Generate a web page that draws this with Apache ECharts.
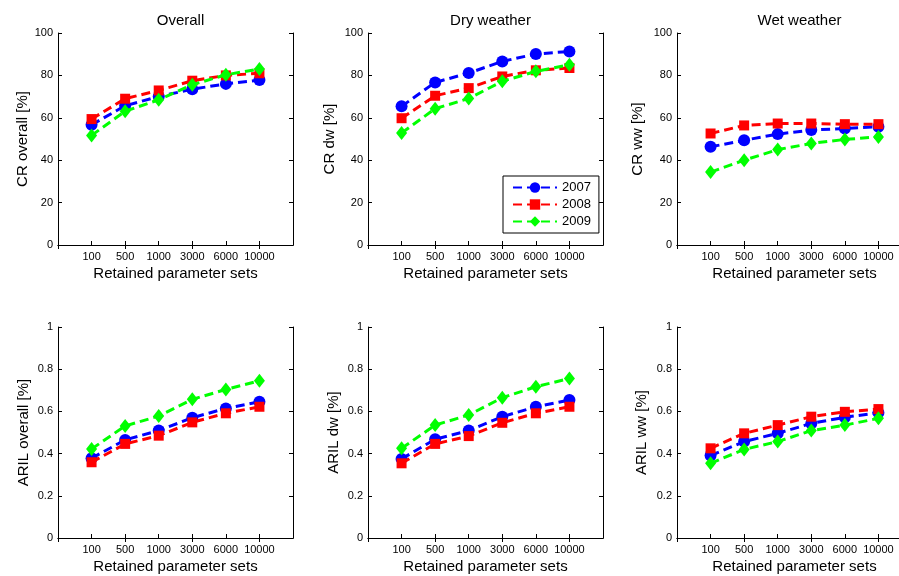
<!DOCTYPE html>
<html>
<head>
<meta charset="utf-8">
<style>
  html, body { margin: 0; padding: 0; background: #fff; }
  #chart { width: 899px; height: 576px; }
</style>
<script src="https://cdn.jsdelivr.net/npm/echarts@6/dist/echarts.min.js"></script>
</head>
<body>
<div id="chart"></div>
<script>
// Retained parameter sets (x categories) and the three calibration years
const categories = ['100', '500', '1000', '3000', '6000', '10000'];
const years = ['2007', '2008', '2009'];

// Containment ratio, overall [%]
const crOverall2007 = [56.7, 65.7, 70.0, 73.5, 76.0, 77.8];
const crOverall2008 = [59.4, 69.0, 72.9, 77.5, 80.0, 81.0];
const crOverall2009 = [51.7, 63.1, 68.5, 75.6, 80.3, 83.0];

// Containment ratio, dry weather [%]
const crDry2007 = [65.4, 76.7, 81.1, 86.6, 90.1, 91.3];
const crDry2008 = [59.8, 70.4, 74.0, 79.5, 82.4, 83.5];
const crDry2009 = [52.8, 64.3, 69.1, 77.2, 81.9, 85.0];

// Containment ratio, wet weather [%]
const crWet2007 = [46.3, 49.4, 52.3, 54.2, 55.0, 55.8];
const crWet2008 = [52.6, 56.4, 57.3, 57.3, 57.0, 57.0];
const crWet2009 = [34.4, 40.0, 45.0, 47.9, 49.8, 51.0];

// Average relative interval length, overall
const arilOverall2007 = [0.378, 0.465, 0.509, 0.570, 0.614, 0.646];
const arilOverall2008 = [0.359, 0.446, 0.485, 0.548, 0.591, 0.622];
const arilOverall2009 = [0.422, 0.531, 0.578, 0.657, 0.704, 0.745];

// Average relative interval length, dry weather
const arilDry2007 = [0.375, 0.468, 0.509, 0.575, 0.622, 0.654];
const arilDry2008 = [0.354, 0.446, 0.483, 0.546, 0.591, 0.622];
const arilDry2009 = [0.425, 0.535, 0.583, 0.665, 0.717, 0.756];

// Average relative interval length, wet weather
const arilWet2007 = [0.391, 0.457, 0.496, 0.543, 0.572, 0.594];
const arilWet2008 = [0.425, 0.496, 0.535, 0.575, 0.598, 0.611];
const arilWet2009 = [0.354, 0.420, 0.457, 0.509, 0.535, 0.567];

const FONT = "'Liberation Sans', Arial, Helvetica, sans-serif";
const colors = ['#0000ff', '#ff0000', '#00ff00'];
const symbols = ['circle', 'rect', 'diamond'];
const symbolSizes = [12, 10, [11, 14]];

const panels = [
  { title: 'Overall',     yName: 'CR overall [%]',    max: 100, interval: 20,  sets: [crOverall2007, crOverall2008, crOverall2009],       left: 58,  top: 33,  h: 212, gap: 27 },
  { title: 'Dry weather', yName: 'CR dw [%]',         max: 100, interval: 20,  sets: [crDry2007, crDry2008, crDry2009],                   left: 368, top: 33,  h: 212, gap: 31 },
  { title: 'Wet weather', yName: 'CR ww [%]',         max: 100, interval: 20,  sets: [crWet2007, crWet2008, crWet2009],                   left: 677, top: 33,  h: 212, gap: 32 },
  { title: '',            yName: 'ARIL overall [%]',  max: 1,   interval: 0.2, sets: [arilOverall2007, arilOverall2008, arilOverall2009], left: 58,  top: 327, h: 211, gap: 27 },
  { title: '',            yName: 'ARIL dw [%]',       max: 1,   interval: 0.2, sets: [arilDry2007, arilDry2008, arilDry2009],             left: 368, top: 327, h: 211, gap: 27 },
  { title: '',            yName: 'ARIL ww [%]',       max: 1,   interval: 0.2, sets: [arilWet2007, arilWet2008, arilWet2009],             left: 677, top: 327, h: 211, gap: 28 }
];
const PANEL_W = 235;

// Empty slots on both ends leave half-spacing margins like the original axes
const xCats = [''].concat(categories, ['']);
const pad = v => ['-'].concat(v, ['-']);

const axisLine = { show: true, lineStyle: { color: '#000', width: 1 } };
const tick = { show: true, inside: true, length: 4, lineStyle: { color: '#000' } };

const grid = [], xAxis = [], yAxis = [], series = [], title = [];

panels.forEach((p, i) => {
  // the right column runs past the canvas edge; keep the grid at its full width
  grid.push({
    left: p.left, top: p.top, width: PANEL_W, height: p.h,
    containLabel: false, outerBoundsMode: 'none'
  });

  if (p.title) {
    title.push({
      text: p.title, left: p.left + PANEL_W / 2, top: 8, textAlign: 'center',
      textStyle: { fontFamily: FONT, fontSize: 15, fontWeight: 'normal', color: '#000' }
    });
  }

  // bottom axis with labels, top axis mirrors the box
  xAxis.push({
    type: 'category', gridIndex: i, data: xCats, boundaryGap: false, position: 'bottom',
    axisLine, axisTick: tick, splitLine: { show: false },
    axisLabel: { color: '#000', fontFamily: FONT, fontSize: 11, margin: 6, interval: 0 },
    name: 'Retained parameter sets', nameLocation: 'middle', nameGap: 21,
    nameTextStyle: { color: '#000', fontFamily: FONT, fontSize: 15 }
  });
  xAxis.push({
    type: 'category', gridIndex: i, data: xCats, boundaryGap: false, position: 'top',
    axisLine, axisTick: tick, axisLabel: { show: false }, splitLine: { show: false }
  });

  yAxis.push({
    type: 'value', gridIndex: i, min: 0, max: p.max, interval: p.interval, position: 'left',
    axisLine, axisTick: tick, splitLine: { show: false },
    axisLabel: { color: '#000', fontFamily: FONT, fontSize: 11, margin: 5 },
    name: p.yName, nameLocation: 'middle', nameGap: p.gap,
    nameTextStyle: { color: '#000', fontFamily: FONT, fontSize: 15 }
  });
  yAxis.push({
    type: 'value', gridIndex: i, min: 0, max: p.max, interval: p.interval, position: 'right',
    axisLine, axisTick: tick, axisLabel: { show: false }, splitLine: { show: false }
  });

  p.sets.forEach((vals, k) => {
    series.push({
      type: 'line', name: years[k],
      xAxisIndex: 2 * i, yAxisIndex: 2 * i,
      data: pad(vals),
      symbol: symbols[k], symbolSize: symbolSizes[k], showAllSymbol: true,
      lineStyle: { color: colors[k], width: 3, type: [9, 5] },
      itemStyle: { color: colors[k], borderColor: colors[k], borderWidth: 0 },
      z: 2 + k
    });
  });
});

const chart = echarts.init(document.getElementById('chart'), null, { renderer: 'canvas' });
chart.setOption({
  animation: false,
  backgroundColor: '#fff',
  textStyle: { fontFamily: FONT },
  title,
  grid, xAxis, yAxis, series,
  legend: {
    data: years, orient: 'vertical', left: 503, top: 176,
    backgroundColor: '#fff', borderColor: '#000', borderWidth: 1, borderRadius: 0,
    padding: [5, 8, 5, 9], itemGap: 4, itemWidth: 44, itemHeight: 13,
    textStyle: { color: '#000', fontFamily: FONT, fontSize: 13 },
    selectedMode: false
  }
});
</script>
</body>
</html>
